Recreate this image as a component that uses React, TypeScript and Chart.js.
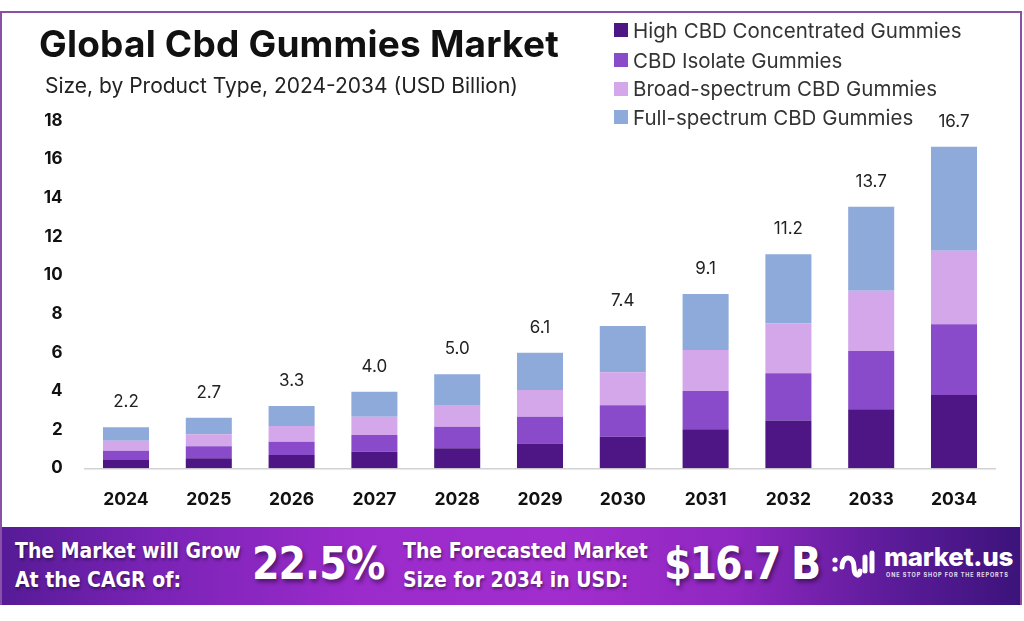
import React, { useEffect, useRef } from "react";
import { Chart, registerables } from "chart.js";

Chart.register(...registerables);

const years = ["2024", "2025", "2026", "2027", "2028", "2029", "2030", "2031", "2032", "2033", "2034"];
const highCbd = [0.43, 0.52, 0.69, 0.86, 1.04, 1.29, 1.64, 2.02, 2.47, 3.06, 3.8];
const isolate = [0.48, 0.62, 0.69, 0.86, 1.11, 1.38, 1.62, 1.98, 2.45, 3.01, 3.66];
const broad = [0.52, 0.62, 0.81, 0.95, 1.09, 1.38, 1.71, 2.13, 2.59, 3.13, 3.81];
const full = [0.69, 0.86, 1.04, 1.3, 1.63, 1.94, 2.4, 2.9, 3.57, 4.35, 5.38];
const totalLabels = ["2.2", "2.7", "3.3", "4.0", "5.0", "6.1", "7.4", "9.1", "11.2", "13.7", "16.7"];
const seriesNames = [
  "High CBD Concentrated Gummies",
  "CBD Isolate Gummies",
  "Broad-spectrum CBD Gummies",
  "Full-spectrum CBD Gummies",
];
const seriesColors = ["#4e1684", "#8a4bcb", "#d4a6ea", "#8eaadb"];
const yMin = 0;
const yMax = 18;
const yStep = 2;

const FONT = "Inter, 'Noto Sans', sans-serif";
const NARROW = "'Liberation Sans Narrow', 'DejaVu Sans Condensed', 'Liberation Sans', sans-serif";

const totalsPlugin = {
  id: "totals",
  afterDatasetsDraw(chart: any) {
    const ctx = chart.ctx;
    const meta = chart.getDatasetMeta(chart.data.datasets.length - 1);
    ctx.save();
    ctx.font = `400 17px ${FONT}`;
    ctx.fillStyle = "#222";
    ctx.textAlign = "center";
    ctx.textBaseline = "middle";
    meta.data.forEach((bar: any, i: number) => {
      ctx.fillText(totalLabels[i], bar.x, bar.y - 25);
    });
    ctx.restore();
  },
};

function BarChart() {
  const ref = useRef<HTMLCanvasElement | null>(null);
  useEffect(() => {
    if (!ref.current) return;
    const data = [highCbd, isolate, broad, full];
    const chart = new Chart(ref.current, {
      type: "bar",
      data: {
        labels: years,
        datasets: data.map((d, i) => ({
          label: seriesNames[i],
          data: d,
          backgroundColor: seriesColors[i],
          borderWidth: 0,
          barPercentage: 0.556,
          categoryPercentage: 1,
        })),
      },
      options: {
        animation: false,
        responsive: true,
        maintainAspectRatio: false,
        layout: { padding: { top: 120.7, right: 28.6, bottom: 102.7, left: 0 } },
        plugins: { legend: { display: false }, tooltip: { enabled: false } },
        scales: {
          x: {
            stacked: true,
            grid: { display: false, drawTicks: false },
            border: { display: true, color: "#d2d2d2", width: 1.5 },
            ticks: { font: { family: FONT, size: 17.5, weight: "bold" }, color: "#111", padding: 21 },
            afterFit: (s: any) => {
              s.height = 50;
            },
          },
          y: {
            stacked: true,
            min: yMin,
            max: yMax,
            grid: { display: false, drawTicks: false },
            border: { display: false },
            ticks: {
              stepSize: yStep,
              font: { family: FONT, size: 17, weight: "bold" },
              color: "#111",
              padding: 22,
            },
            afterFit: (s: any) => {
              s.width = 84.6;
            },
          },
        },
      },
      plugins: [totalsPlugin],
    } as any);
    return () => chart.destroy();
  }, []);
  return <canvas ref={ref} />;
}

export default function App() {
  useEffect(() => {
    document.body.style.margin = "0";
  }, []);
  const shadowSmall = "1px 2px 3px rgba(0,0,0,0.45)";
  const shadowBig = "2px 3px 4px rgba(0,0,0,0.45)";
  return (
    <div style={{ position: "absolute", left: 0, top: 0, width: 1024, height: 621, background: "#fff", overflow: "hidden", fontFamily: FONT }}>
      <div
        style={{
          position: "absolute",
          left: 0,
          top: 11,
          width: 1022,
          height: 594,
          borderLeft: "2px solid #8a4fa6",
          borderTop: "2px solid #8a4fa6",
          borderRight: "2px solid #8a4fa6",
          boxSizing: "border-box",
        }}
      />
      <div style={{ position: "absolute", left: 0, top: 0, width: 1024, height: 621 }}>
        <BarChart />
      </div>
      <div style={{ position: "absolute", left: 39, top: 21, fontSize: 37, lineHeight: "46px", fontWeight: 700, color: "#111", letterSpacing: 0.2, whiteSpace: "nowrap" }}>
        Global Cbd Gummies Market
      </div>
      <div style={{ position: "absolute", left: 45, top: 73, fontSize: 21, lineHeight: "26px", color: "#222", whiteSpace: "nowrap" }}>
        Size, by Product Type, 2024-2034 (USD Billion)
      </div>
      {seriesNames.map((n, i) => (
        <div key={n} style={{ position: "absolute", left: 614, top: [30, 60, 88.5, 117][i] - 12, height: 24, display: "flex", alignItems: "center", whiteSpace: "nowrap" }}>
          <div style={{ width: 14, height: 14, background: seriesColors[i], marginRight: 5 }} />
          <span style={{ fontSize: 20.5, color: "#333" }}>{n}</span>
        </div>
      ))}
      <div
        style={{
          position: "absolute",
          left: 2,
          top: 527,
          width: 1018,
          height: 78,
          background: "linear-gradient(90deg, #561b96 0%, #7a23b6 15%, #9b2bcb 35%, #a22dce 55%, #8f27c0 72%, #5a1b98 88%, #3c137b 100%)",
          color: "#fff",
        }}
      >
        <div style={{ position: "absolute", left: 13, top: 10, fontFamily: NARROW, fontWeight: 700, fontSize: 21, lineHeight: "29px", textShadow: shadowSmall, whiteSpace: "nowrap" }}>
          The Market will Grow
          <br />
          At the CAGR of:
        </div>
        <div style={{ position: "absolute", left: 250, top: 11, fontFamily: NARROW, fontWeight: 700, fontSize: 44, lineHeight: "52px", letterSpacing: -1, textShadow: shadowBig, whiteSpace: "nowrap" }}>
          22.5%
        </div>
        <div style={{ position: "absolute", left: 401, top: 10, fontFamily: NARROW, fontWeight: 700, fontSize: 21, lineHeight: "29px", textShadow: shadowSmall, whiteSpace: "nowrap" }}>
          The Forecasted Market
          <br />
          Size for 2034 in USD:
        </div>
        <div style={{ position: "absolute", left: 662, top: 11, fontFamily: NARROW, fontWeight: 700, fontSize: 44, lineHeight: "52px", letterSpacing: -2, textShadow: shadowBig, whiteSpace: "nowrap" }}>
          $16.7 B
        </div>
        <svg style={{ position: "absolute", left: 828, top: 18 }} width="46" height="40" viewBox="0 0 46 40">
          <g fill="none" stroke="#fff" strokeWidth="5" strokeLinecap="round">
            <path d="M12 22 C12 10, 24 10, 24 22 C24 32, 30 32, 30 26" />
            <path d="M35 12 L35 26" />
            <path d="M42 8 L42 26" />
          </g>
          <circle cx="5" cy="15" r="2.6" fill="#fff" />
          <circle cx="5" cy="24" r="2.6" fill="#fff" />
        </svg>
        <div style={{ position: "absolute", left: 882, top: 15, fontFamily: FONT, fontWeight: 800, fontSize: 26, lineHeight: "30px", whiteSpace: "nowrap", letterSpacing: -0.3 }}>
          market.us
        </div>
        <div style={{ position: "absolute", left: 884, top: 45, fontFamily: FONT, fontWeight: 700, fontSize: 5.5, letterSpacing: 0.9, whiteSpace: "nowrap", opacity: 0.85 }}>
          ONE STOP SHOP FOR THE REPORTS
        </div>
      </div>
    </div>
  );
}
